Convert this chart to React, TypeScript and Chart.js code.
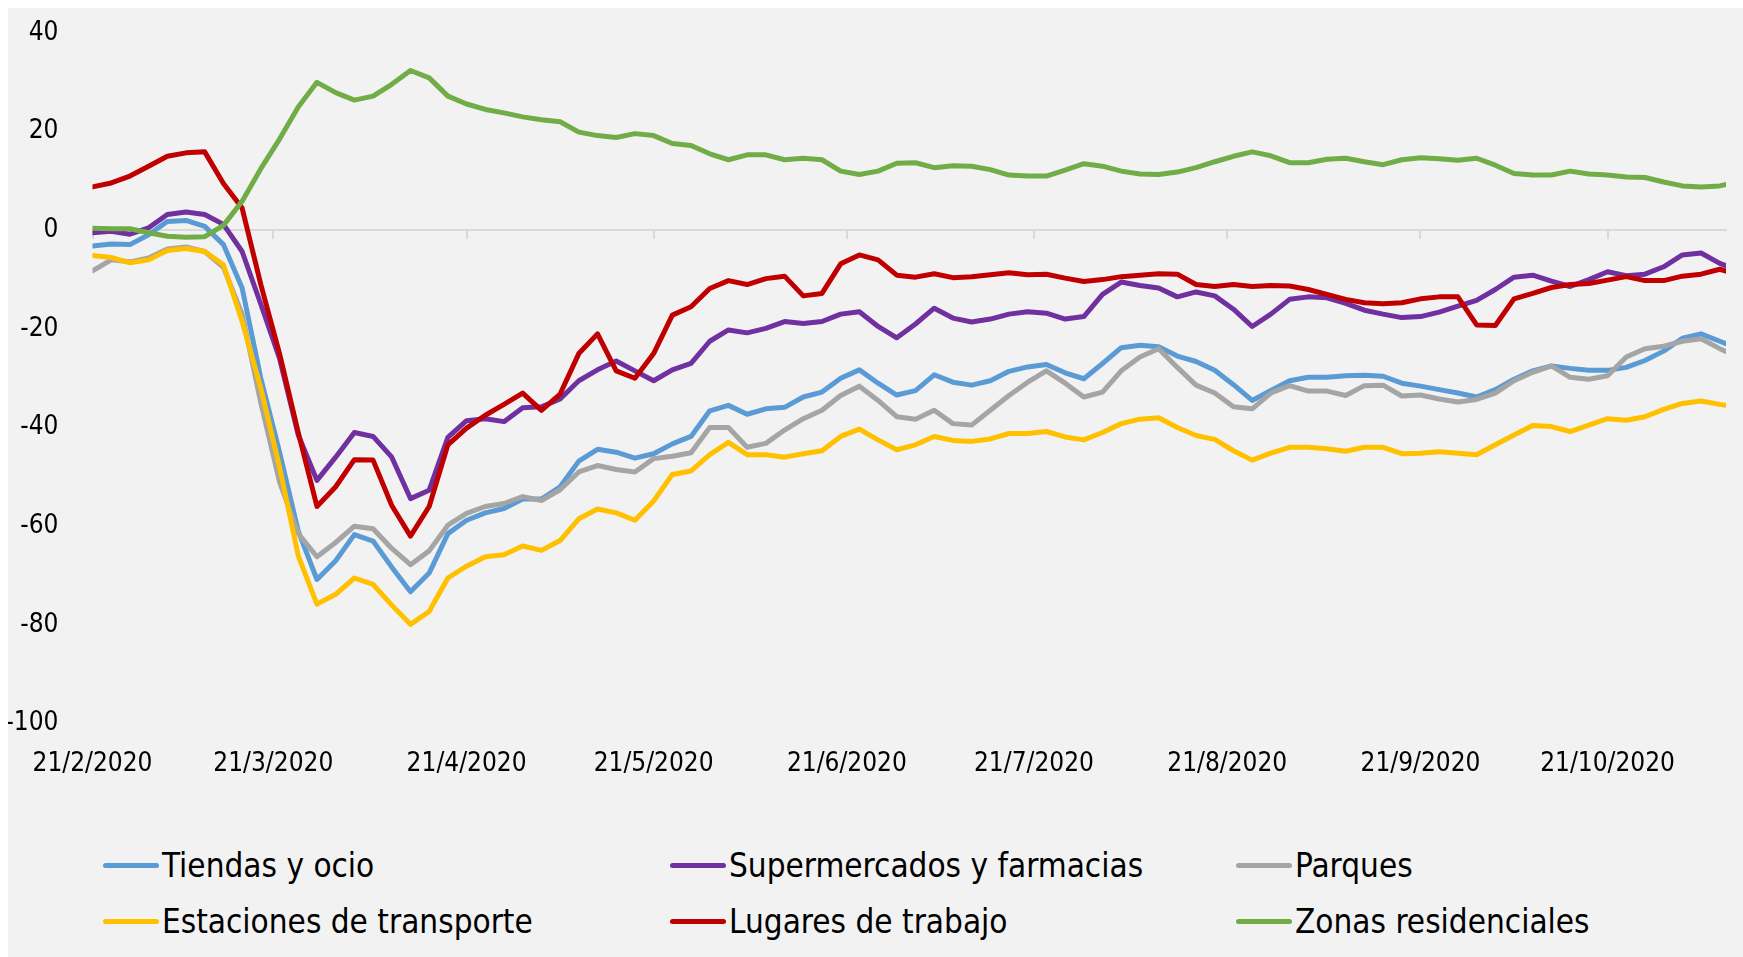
import React, { useEffect, useRef } from 'react';
import { Chart, registerables } from 'chart.js';

Chart.register(...registerables);

const FONT = "'DejaVu Sans Condensed', 'DejaVu Sans', 'Liberation Sans', Arial, sans-serif";

// Day offsets from 21/2/2020 at which the values were read
const DAYS = [
  0, 3, 6, 9, 12, 15, 18, 21, 24, 27,
  30, 33, 36, 39, 42, 45, 48, 51, 54, 57,
  60, 63, 66, 69, 72, 75, 78, 81, 84, 87,
  90, 93, 96, 99, 102, 105, 108, 111, 114, 117,
  120, 123, 126, 129, 132, 135, 138, 141, 144, 147,
  150, 153, 156, 159, 162, 165, 168, 171, 174, 177,
  180, 183, 186, 189, 192, 195, 198, 201, 204, 207,
  210, 213, 216, 219, 222, 225, 228, 231, 234, 237,
  240, 243, 246, 249, 252, 255, 258, 261, 262,
];

const X_TICK_DAYS = [0, 29, 60, 90, 121, 151, 182, 213, 243];
const X_TICK_LABELS = [
  '21/2/2020', '21/3/2020', '21/4/2020', '21/5/2020', '21/6/2020',
  '21/7/2020', '21/8/2020', '21/9/2020', '21/10/2020',
];
const X_MAX = 262;
const Y_MIN = -100;
const Y_MAX = 40;
const Y_STEP = 20;

const SERIES_NAMES = [
  'Tiendas y ocio',
  'Supermercados y farmacias',
  'Parques',
  'Estaciones de transporte',
  'Lugares de trabajo',
  'Zonas residenciales',
];
const SERIES_COLORS = ['#5B9BD5', '#7030A0', '#A5A5A5', '#FFC000', '#C00000', '#70AD47'];

const TIENDAS = [
  -3.2, -2.8, -2.9, -0.9, 1.8, 2.0, 0.8, -2.9, -11.7, -30,
  -45, -61, -70.8, -67, -61.7, -63, -68.3, -73.3, -69.5, -61.5,
  -58.8, -57.3, -56.4, -54.5, -54.5, -52, -46.8, -44.4, -45, -46.2,
  -45.3, -43.3, -41.8, -36.6, -35.5, -37.3, -36.2, -35.9, -33.8, -32.8,
  -30, -28.3, -31, -33.4, -32.5, -29.3, -30.8, -31.4, -30.5, -28.6,
  -27.7, -27.2, -28.9, -30.1, -27, -23.8, -23.3, -23.6, -25.5, -26.6,
  -28.4, -31.3, -34.5, -32.5, -30.5, -29.8, -29.8, -29.5, -29.4, -29.6,
  -31, -31.6, -32.3, -33, -33.8, -32.3, -30.2, -28.5, -27.5, -28,
  -28.4, -28.4, -27.8, -26.4, -24.5, -21.9, -21, -22.5, -23,
];

const SUPERMERCADOS = [
  -0.5, -0.2, -0.8, 0.5, 3.2, 3.7, 3.2, 1.2, -4.3, -15,
  -26, -41.5, -50.7, -46, -41, -41.8, -46, -54.4, -52.7, -42,
  -38.6, -38.2, -38.8, -36, -35.8, -34.2, -30.5, -28.3, -26.5, -28.5,
  -30.5, -28.3, -27, -22.5, -20.2, -20.8, -19.9, -18.5, -18.9, -18.5,
  -17, -16.5, -19.5, -21.8, -19, -15.8, -17.8, -18.6, -18, -17,
  -16.5, -16.8, -18, -17.5, -13, -10.5, -11.2, -11.7, -13.5, -12.5,
  -13.3, -16, -19.5, -17, -14, -13.5, -13.7, -14.8, -16.2, -17,
  -17.7, -17.5, -16.6, -15.4, -14.2, -12, -9.5, -9.1, -10.3, -11.4,
  -10.0, -8.4, -9.2, -8.9, -7.4, -5.0, -4.6, -6.7, -7.2,
];

const PARQUES = [
  -8.2, -6.0, -6.4, -5.6, -3.8, -3.4, -4.3, -7.5, -17, -35,
  -51, -61.5, -66.2, -63.3, -60, -60.5, -64.5, -67.8, -65, -59.8,
  -57.4, -56, -55.4, -54, -54.8, -52.6, -49, -47.7, -48.5, -49,
  -46.3, -45.8, -45.1, -40, -40, -44, -43.2, -40.5, -38.2, -36.5,
  -33.5, -31.6, -34.5, -37.8, -38.3, -36.5, -39.2, -39.5, -36.5, -33.5,
  -30.8, -28.5, -31, -33.8, -32.8, -28.5, -25.7, -24, -27.8, -31.4,
  -33, -35.8, -36.2, -33, -31.5, -32.6, -32.6, -33.5, -31.5, -31.4,
  -33.6, -33.4, -34.2, -34.8, -34.3, -33, -30.5, -28.8, -27.5, -29.8,
  -30.2, -29.5, -25.7, -24, -23.5, -22.5, -22, -24, -24.6,
];

const ESTACIONES = [
  -5.1, -5.5, -6.6, -6.0, -4.1, -3.7, -4.3, -7.0, -18.5, -32,
  -48, -66, -75.8, -73.8, -70.5, -71.8, -76, -79.9, -77.3, -70.5,
  -68.1, -66.2, -65.8, -64, -64.9, -62.9, -58.5, -56.5, -57.3, -58.8,
  -54.9, -49.5, -48.8, -45.5, -43, -45.5, -45.5, -46, -45.3, -44.7,
  -41.8, -40.3, -42.5, -44.5, -43.5, -41.8, -42.6, -42.8, -42.3, -41.2,
  -41.2, -40.8, -41.9, -42.5, -41, -39.2, -38.3, -38, -40, -41.6,
  -42.4, -44.7, -46.6, -45.2, -44, -44, -44.3, -44.8, -44, -44,
  -45.3, -45.2, -44.9, -45.2, -45.5, -43.5, -41.5, -39.6, -39.8, -40.8,
  -39.5, -38.2, -38.5, -37.8, -36.3, -35.1, -34.6, -35.3, -35.5,
];

const LUGARES = [
  8.8, 9.6, 11.0, 13.0, 15.0, 15.7, 15.9, 9.5, 4.5, -11,
  -25, -41, -56, -52, -46.5, -46.6, -55.8, -62, -56, -43.5,
  -40.1, -37.5, -35.3, -33, -36.5, -33.2, -25, -21, -28.5, -30,
  -25, -17.2, -15.5, -11.8, -10.2, -11, -9.8, -9.3, -13.3, -12.8,
  -6.8, -5, -6, -9.1, -9.5, -8.8, -9.6, -9.4, -9.0, -8.6,
  -9.0, -8.9, -9.7, -10.4, -10.0, -9.4, -9.1, -8.8, -8.9, -11,
  -11.4, -11, -11.4, -11.2, -11.3, -12.0, -13.0, -14.0, -14.7, -14.9,
  -14.7, -13.9, -13.5, -13.5, -19.2, -19.3, -13.9, -12.8, -11.6, -11.0,
  -10.8, -10.1, -9.4, -10.2, -10.2, -9.3, -8.9, -7.9, -8.3,
];

const ZONAS = [
  0.4, 0.3, 0.3, -0.5, -1.2, -1.4, -1.3, 1.0, 5.9, 12.5,
  18.5, 25, 30, 27.9, 26.4, 27.2, 29.6, 32.4, 30.9, 27.2,
  25.6, 24.5, 23.8, 23.0, 22.4, 22.0, 19.9, 19.2, 18.8, 19.6,
  19.2, 17.6, 17.2, 15.5, 14.3, 15.3, 15.3, 14.3, 14.6, 14.3,
  12.0, 11.3, 12.0, 13.6, 13.7, 12.7, 13.1, 13.0, 12.3, 11.2,
  11.0, 11.0, 12.2, 13.5, 13.0, 12.0, 11.4, 11.3, 11.8, 12.7,
  13.9, 15.0, 15.9, 15.1, 13.7, 13.7, 14.4, 14.6, 13.9, 13.3,
  14.3, 14.7, 14.5, 14.2, 14.6, 13.2, 11.5, 11.2, 11.2, 12.0,
  11.4, 11.2, 10.8, 10.7, 9.8, 9.0, 8.8, 9.0, 9.3,
];

const SERIES_VALUES = [TIENDAS, SUPERMERCADOS, PARQUES, ESTACIONES, LUGARES, ZONAS];

const W = 1735;
const H = 800;
const PLOT_LEFT = 84.5;
const PLOT_RIGHT = 1718;
const PLOT_TOP = 25;
const PLOT_BOTTOM = 715.5;
const AXIS_FONT_SIZE = 26;
const LEGEND_FONT_SIZE = 33;

export default function App() {
  const ref = useRef<HTMLCanvasElement>(null);

  useEffect(() => {
    if (!ref.current) return;
    const setTicks = (axis: any) => {
      axis.ticks = X_TICK_DAYS.map((v) => ({ value: v }));
    };
    const chart = new Chart(ref.current, {
      type: 'line',
      data: {
        datasets: SERIES_NAMES.map((name, i) => ({
          label: name,
          data: SERIES_VALUES[i].map((v, j) => ({ x: DAYS[j], y: v })),
          borderColor: SERIES_COLORS[i],
          backgroundColor: SERIES_COLORS[i],
          borderWidth: 5,
          pointRadius: 0,
          pointHoverRadius: 0,
          borderCapStyle: 'round',
          borderJoinStyle: 'round',
          tension: 0,
          fill: false,
          order: SERIES_NAMES.length - i,
          xAxisID: 'x',
          yAxisID: 'y',
        })),
      },
      options: {
        responsive: false,
        maintainAspectRatio: false,
        animation: false,
        devicePixelRatio: 1,
        events: [],
        layout: { padding: { top: PLOT_TOP, right: W - PLOT_RIGHT, left: 0, bottom: 0 } },
        plugins: { legend: { display: false }, tooltip: { enabled: false }, title: { display: false } },
        scales: {
          x: {
            type: 'linear',
            position: 'bottom',
            min: 0,
            max: X_MAX,
            afterBuildTicks: setTicks,
            afterFit: (s: any) => {
              s.height = H - PLOT_BOTTOM;
              s.paddingLeft = 0;
              s.paddingRight = 0;
            },
            grid: { display: false },
            border: { display: false },
            ticks: {
              autoSkip: false,
              maxRotation: 0,
              minRotation: 0,
              padding: 17,
              color: '#000000',
              font: { family: FONT, size: AXIS_FONT_SIZE },
              callback: (v: any) => {
                const k = X_TICK_DAYS.indexOf(Number(v));
                return k >= 0 ? X_TICK_LABELS[k] : '';
              },
            },
          },
          xZero: {
            type: 'linear',
            position: { y: 0 },
            min: 0,
            max: X_MAX,
            afterBuildTicks: setTicks,
            afterFit: (s: any) => {
              s.paddingLeft = 0;
              s.paddingRight = 0;
            },
            grid: {
              display: true,
              drawOnChartArea: false,
              drawTicks: true,
              tickLength: 8,
              color: '#D9D9D9',
              lineWidth: 2,
            },
            border: { display: true, color: '#D9D9D9', width: 2 },
            ticks: { display: false },
          },
          y: {
            type: 'linear',
            min: Y_MIN,
            max: Y_MAX,
            afterFit: (s: any) => {
              s.width = PLOT_LEFT;
              s.paddingTop = 0;
              s.paddingBottom = 0;
            },
            grid: { display: false },
            border: { display: false },
            ticks: {
              stepSize: Y_STEP,
              padding: 26,
              color: '#000000',
              font: { family: FONT, size: AXIS_FONT_SIZE },
              callback: (v: any) => String(v),
            },
          },
        },
      } as any,
    });
    return () => chart.destroy();
  }, []);

  const colLeft = [95, 662, 1228];
  const rowCenter = [857, 913];

  return (
    <div
      style={{
        position: 'fixed',
        left: 8,
        top: 8,
        right: 0,
        bottom: 0,
        background: '#F2F2F2',
        overflow: 'hidden',
      }}
    >
      <canvas ref={ref} width={W} height={H} style={{ display: 'block', width: W, height: H }} />
      {SERIES_NAMES.map((name, i) => {
        const col = i % 3;
        const row = Math.floor(i / 3);
        return (
          <div
            key={name}
            style={{
              position: 'absolute',
              left: colLeft[col],
              top: rowCenter[row] - 25,
              height: 50,
              display: 'flex',
              alignItems: 'center',
              whiteSpace: 'nowrap',
              fontFamily: FONT,
              fontSize: LEGEND_FONT_SIZE,
              color: '#000',
            }}
          >
            <span
              style={{
                display: 'inline-block',
                width: 56,
                height: 5,
                borderRadius: 3,
                background: SERIES_COLORS[i],
                marginRight: 3,
              }}
            />
            <span>{name}</span>
          </div>
        );
      })}
    </div>
  );
}
